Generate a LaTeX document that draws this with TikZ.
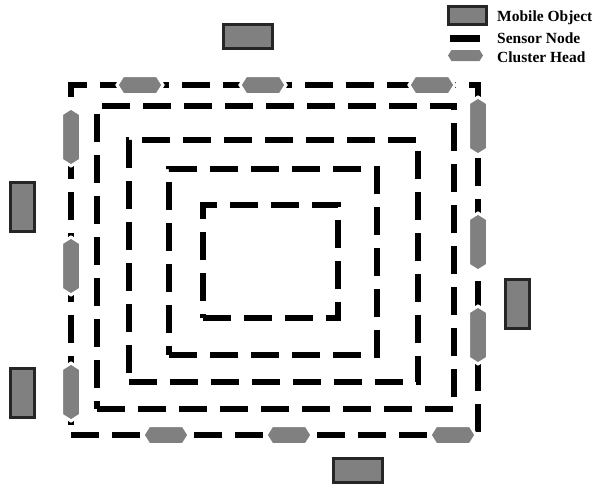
\documentclass[tikz,border=0pt]{standalone}
\usepackage{fontspec}
\setmainfont{Liberation Serif}
\usetikzlibrary{positioning,shapes.symbols}
\tikzset{
  objekt/.style={rectangle,draw=black!85,fill=black!50,line width=3pt,inner sep=0pt,minimum width=49pt,minimum height=24pt},
  objektV/.style={objekt,minimum width=24pt,minimum height=49pt},
  hlava/.style={signal,signal to=east and west,signal pointer angle=116,fill=black!50,draw=white,line width=3pt,inner sep=0pt,minimum width=46pt,minimum height=19pt},
  hlavaV/.style={hlava,signal to=north and south,minimum width=19pt,minimum height=46pt},
  senzor/.style={rectangle,fill=black,inner sep=0pt,minimum width=30pt,minimum height=7pt},
  okruh/.style={line width=6pt,dash pattern=on 28pt off 13pt},
  popis/.style={anchor=base west,font=\fontsize{15.5}{18}\selectfont\bfseries,inner sep=0pt},
}
\begin{document}
\begin{tikzpicture}[x=1pt,y=-1pt]
  \useasboundingbox (0,0) rectangle (600,485);
  \draw[okruh] (71,435) -- (478,435) -- (478,85) -- (71,85) -- cycle;
  \draw[okruh] (97,409) -- (454,409) -- (454,106) -- (97,106) -- cycle;
  \draw[okruh] (129,382) -- (418,382) -- (418,140) -- (129,140) -- cycle;
  \draw[okruh] (169,355) -- (377,355) -- (377,169) -- (169,169) -- cycle;
  \draw[okruh] (203,318) -- (338,318) -- (338,205) -- (203,205) -- cycle;
  \node[hlava] (h1) at (140,85) {};
  \node[hlava] (h2) at (263,85) {};
  \node[hlava] (h3) at (432,85) {};
  \node[hlava] (h4) at (166,435) {};
  \node[hlava] (h5) at (289,435) {};
  \node[hlava] (h6) at (453,435) {};
  \node[hlavaV] (h7) at (71,137) {};
  \node[hlavaV] (h8) at (71,266) {};
  \node[hlavaV] (h9) at (71,392) {};
  \node[hlavaV] (h10) at (478,126) {};
  \node[hlavaV] (h11) at (478,242) {};
  \node[hlavaV] (h12) at (478,335) {};
  \node[objekt] (m1) at (248,36.5) {};
  \node[objekt] (m2) at (358,470) {};
  \node[objektV] (m3) at (22.5,207) {};
  \node[objektV] (m4) at (22.5,393) {};
  \node[objektV] (m5) at (517,304) {};
  \node[objekt,minimum width=38pt,minimum height=18pt] (lm) at (467,15.5) {};
  \node[senzor] (ls) at (465,38.5) {};
  \node[hlava,draw=none,minimum width=35pt,minimum height=11pt] (lh) at (465.5,55.5) {};
  \node[popis] (tm) at (497,21) {Mobile Object};
  \node[popis] (ts) at (497,43) {Sensor Node};
  \node[popis] (th) at (497,62) {Cluster Head};
\end{tikzpicture}
\end{document}
